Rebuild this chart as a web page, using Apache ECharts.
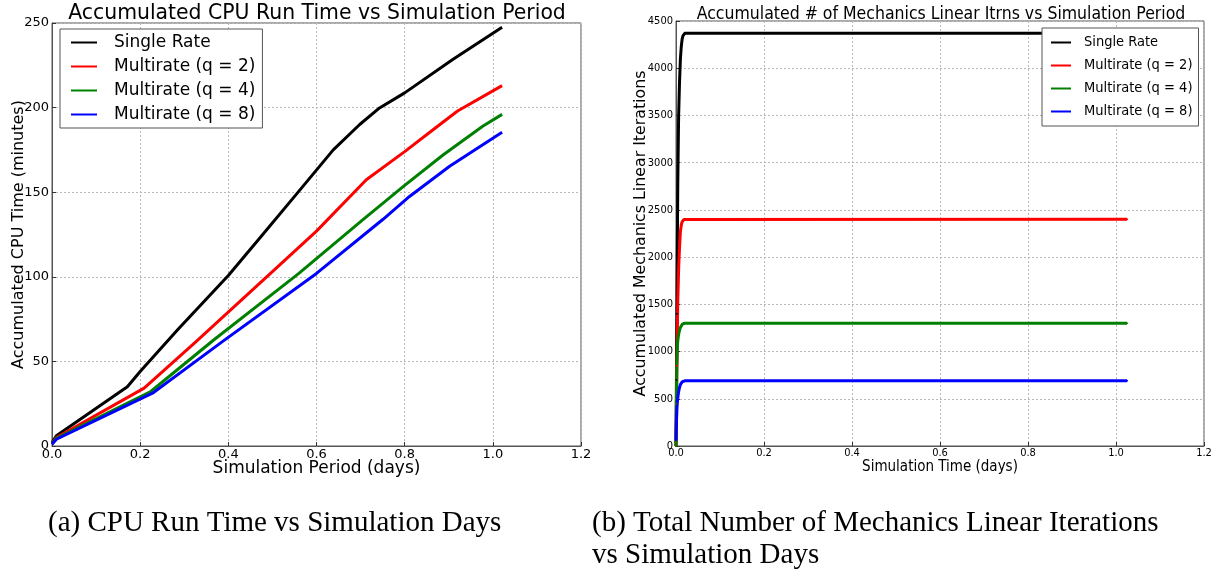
<!DOCTYPE html>
<html><head><meta charset="utf-8">
<script src="https://cdn.jsdelivr.net/npm/echarts@6/dist/echarts.min.js"></script>
<style>html,body{margin:0;padding:0;background:#fff}#c{width:1226px;height:574px}</style>
</head><body><div id="c"></div>
<script>
// ---- Left chart: CPU run time (minutes) vs simulation period (days)
const seriesNames = ['Single Rate', 'Multirate (q = 2)', 'Multirate (q = 4)', 'Multirate (q = 8)'];
const colors = ['#000000', '#ff0000', '#008000', '#0000ff'];

const cpuSingleX = [0, 0.01, 0.171, 0.2, 0.285, 0.4, 0.47, 0.555, 0.638, 0.698, 0.743, 0.8, 0.909, 1.021];
const cpuSingleY = [2, 6, 35, 44, 68.7, 100.8, 122.5, 149, 175, 190, 199.8, 208.7, 228.4, 247.5];
const cpuQ2X = [0, 0.01, 0.209, 0.328, 0.5, 0.6, 0.713, 0.8, 0.86, 0.92, 1.021];
const cpuQ2Y = [1.5, 5, 34.2, 62, 103, 127, 157.4, 174, 186, 198, 213];
const cpuQ4X = [0, 0.01, 0.224, 0.366, 0.56, 0.702, 0.8, 0.887, 0.977, 1.021];
const cpuQ4Y = [1.5, 4.5, 32.2, 62.5, 102, 133, 154, 172, 189, 196];
const cpuQ8X = [0, 0.01, 0.228, 0.388, 0.6, 0.751, 0.811, 0.902, 1.021];
const cpuQ8Y = [1, 4, 31.2, 62, 102, 134, 147.5, 165.3, 185.5];

// ---- Right chart: accumulated mechanics linear iterations vs simulation time (days)
const itX = [0, 0.001, 0.002, 0.003, 0.004, 0.005, 0.006, 0.008, 0.010, 0.012, 0.014, 0.016, 0.018, 0.020, 1.025];
const itSingle = [0, 700, 1400, 2100, 2750, 3150, 3500, 3850, 4100, 4230, 4310, 4345, 4362, 4370, 4370];
const itQ2 = [0, 450, 850, 1200, 1530, 1700, 1880, 2100, 2270, 2340, 2375, 2390, 2397, 2400, 2400];
const itQ4 = [0, 450, 880, 1040, 1110, 1150, 1180, 1225, 1255, 1275, 1287, 1294, 1298, 1300, 1300];
const itQ8 = [60, 250, 380, 460, 505, 545, 575, 620, 650, 668, 679, 685, 689, 690, 690];

const leftTitle = 'Accumulated CPU Run Time vs Simulation Period';
const rightTitle = 'Accumulated # of Mechanics Linear Itrns vs Simulation Period';
const capA = '(a) CPU Run Time vs Simulation Days';
const capB1 = '(b) Total Number of Mechanics Linear Iterations';
const capB2 = 'vs Simulation Days';

const zip = (xs, ys) => xs.map((x, i) => [x, ys[i]]);
const chart = echarts.init(document.getElementById('c'), null, {renderer: 'canvas'});

const F = 'DejaVu Sans';
const FC = '"DejaVu Sans Condensed", "DejaVu Sans"';
const gridLine = {show: true, lineStyle: {color: '#b8b8b8', type: [2, 2], width: 1}};

function xAxis(gi, font, size, name, nameFont, nameSize, gap) {
  return {
    type: 'value', gridIndex: gi, min: 0, max: 1.2, interval: 0.2,
    name: name, nameLocation: 'middle', nameGap: gap, nameMoveOverlap: false,
    nameTextStyle: {fontFamily: nameFont, fontSize: nameSize, color: '#000'},
    axisLine: {show: true, onZero: false, lineStyle: {color: '#555', width: 1}},
    axisTick: {show: true, inside: true, length: 4, lineStyle: {color: '#333'}},
    axisLabel: {fontFamily: font, fontSize: size, color: '#000', margin: 2, formatter: v => v.toFixed(1)},
    splitLine: gridLine
  };
}
function yAxis(gi, font, size, max, interval, name, nameFont, nameSize, gap) {
  return {
    type: 'value', gridIndex: gi, min: 0, max: max, interval: interval,
    name: name, nameLocation: 'middle', nameGap: gap, nameMoveOverlap: false,
    nameTextStyle: {fontFamily: nameFont, fontSize: nameSize, color: '#000'},
    axisLine: {show: true, lineStyle: {color: '#555', width: 1}},
    axisTick: {show: true, inside: true, length: 4, lineStyle: {color: '#333'}},
    axisLabel: {fontFamily: font, fontSize: size, color: '#000', margin: 3, formatter: v => String(v)},
    splitLine: gridLine
  };
}
function line(name, color, data, gi, sym) {
  return {
    name: name, type: 'line', xAxisIndex: gi, yAxisIndex: gi, data: data,
    showSymbol: sym, symbol: 'circle', symbolSize: 2,
    itemStyle: {color: color}, lineStyle: {color: color, width: 3, join: 'round'},
    animation: false
  };
}

chart.setOption({
  animation: false,
  backgroundColor: '#fff',
  title: [
    {text: leftTitle, left: 312, top: -1, textAlign: 'center',
     textStyle: {fontFamily: F, fontSize: 20.4, fontWeight: 'normal', color: '#000'}},
    {text: rightTitle, left: 936, top: 0, textAlign: 'center',
     textStyle: {fontFamily: FC, fontSize: 17.5, fontWeight: 'normal', color: '#000'}},
    {text: capA, left: 48, top: 509, padding: 0,
     textStyle: {fontFamily: 'Liberation Serif', fontSize: 29, fontWeight: 'normal', color: '#000'}},
    {text: capB1, left: 592, top: 509, padding: 0,
     textStyle: {fontFamily: 'Liberation Serif', fontSize: 29, fontWeight: 'normal', color: '#000'}},
    {text: capB2, left: 592, top: 541, padding: 0,
     textStyle: {fontFamily: 'Liberation Serif', fontSize: 29, fontWeight: 'normal', color: '#000'}}
  ],
  grid: [
    {left: 52, top: 23, width: 529, height: 423, show: true, borderColor: '#555', borderWidth: 1, backgroundColor: 'transparent'},
    {left: 676, top: 21, width: 528, height: 425, show: true, borderColor: '#555', borderWidth: 1, backgroundColor: 'transparent'}
  ],
  xAxis: [
    xAxis(0, F, 13, 'Simulation Period (days)', F, 17, 14),
    xAxis(1, FC, 11, 'Simulation Time (days)', FC, 15, 14)
  ],
  yAxis: [
    yAxis(0, F, 13, 250, 50, 'Accumulated CPU Time (minutes)', F, 16, 25),
    yAxis(1, FC, 11, 4500, 500, 'Accumulated Mechanics Linear Iterations', F, 15.8, 27)
  ],
  legend: [
    {data: seriesNames, orient: 'vertical', left: 60, top: 29,
     padding: [5, 7, 5, 11], itemGap: 7, itemWidth: 26, itemHeight: 2, icon: 'rect',
     borderColor: '#555', borderWidth: 1, backgroundColor: '#fff', borderRadius: 0,
     textStyle: {fontFamily: F, fontSize: 17, color: '#000', padding: [0, 0, 0, 12]}},
    {data: seriesNames, orient: 'vertical', left: 1042, top: 28,
     padding: [7, 6, 7, 9], itemGap: 8, itemWidth: 20, itemHeight: 2, icon: 'rect',
     borderColor: '#555', borderWidth: 1, backgroundColor: '#fff', borderRadius: 0,
     textStyle: {fontFamily: FC, fontSize: 14.5, color: '#000', padding: [0, 0, 0, 8]}}
  ],
  series: [
    line(seriesNames[0], colors[0], zip(cpuSingleX, cpuSingleY), 0, false),
    line(seriesNames[1], colors[1], zip(cpuQ2X, cpuQ2Y), 0, false),
    line(seriesNames[2], colors[2], zip(cpuQ4X, cpuQ4Y), 0, false),
    line(seriesNames[3], colors[3], zip(cpuQ8X, cpuQ8Y), 0, false),
    line(seriesNames[0], colors[0], zip(itX, itSingle), 1, true),
    line(seriesNames[1], colors[1], zip(itX, itQ2), 1, true),
    line(seriesNames[2], colors[2], zip(itX, itQ4), 1, true),
    line(seriesNames[3], colors[3], zip(itX, itQ8), 1, true)
  ]
});
</script></body></html>
